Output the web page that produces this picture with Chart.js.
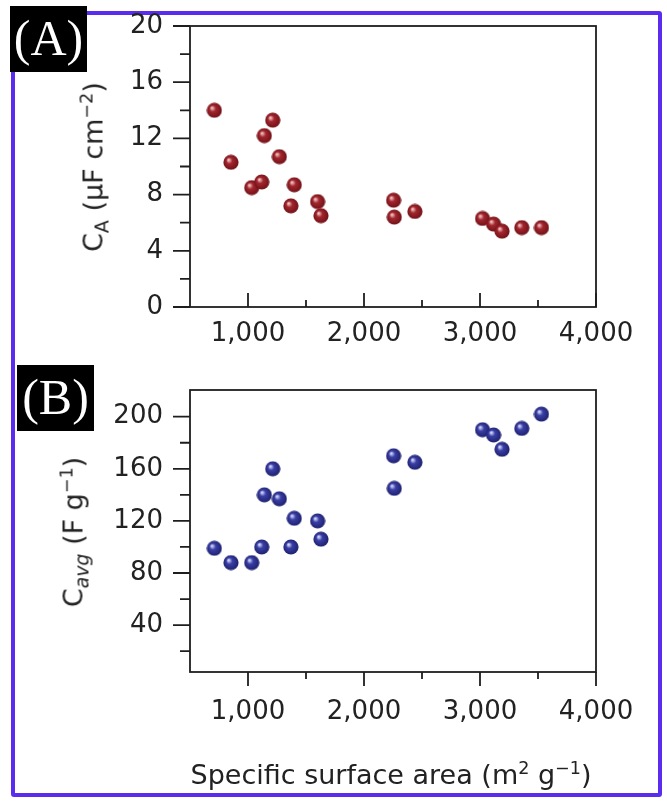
<!DOCTYPE html>
<html lang="en">
<head>
<meta charset="UTF-8">
<title>Capacitance vs specific surface area</title>
<script src="https://cdn.jsdelivr.net/npm/chart.js"></script>
<style>
  body { margin: 0; background: #fff; }
  #page { position: relative; width: 667px; height: 807px; overflow: hidden; font-family: "DejaVu Sans", sans-serif; color: #222; }
  .frame { position: absolute; left: 11px; top: 11px; width: 651px; height: 786px; box-sizing: border-box; border: 4px solid #5a2cf0; border-radius: 3px; }
  canvas { position: absolute; left: 0; }
  .tag { position: absolute; background: #000; color: #fff; font-family: "Liberation Serif", serif; font-size: 50px; line-height: 64px; text-align: center; width: 77px; height: 66px; }
  .title { position: absolute; white-space: nowrap; font-size: 27px; line-height: 1; }
  .rot { transform: translate(-50%, -50%) rotate(-90deg); }
  .hor { transform: translate(-50%, -50%); }
  sup { font-size: 65%; vertical-align: 0.55em; line-height: 0; }
  sub { font-size: 70%; vertical-align: -0.3em; line-height: 0; }
  sub.it { font-style: italic; }
</style>
</head>
<body>
<div id="page">
  <div class="frame"></div>
  <canvas id="chartA" width="667" height="360" style="top:0"></canvas>
  <canvas id="chartB" width="667" height="447" style="top:360px"></canvas>
  <div class="tag" style="left:10px; top:6px">(A)</div>
  <div class="tag" style="left:17px; top:365px">(B)</div>
  <div class="title rot" style="left:93px; top:167px">C<sub>A</sub> (μF cm<sup>−2</sup>)</div>
  <div class="title rot" style="left:73px; top:532px">C<sub class="it">avg</sub> (F g<sup>−1</sup>)</div>
  <div class="title hor" style="left:391px; top:774px">Specific surface area (m<sup>2</sup> g<sup>−1</sup>)</div>
</div>

<script>
// valeurs
const surfaceArea = [710, 853, 1032, 1118, 1141, 1213, 1270, 1399, 1370, 1600, 1629, 2255, 2261, 2439, 3022, 3117, 3190, 3360, 3530];
const capArea = [14.0, 10.3, 8.5, 8.9, 12.2, 13.3, 10.7, 8.7, 7.2, 7.5, 6.5, 7.6, 6.4, 6.8, 6.3, 5.9, 5.4, 5.65, 5.65];
const capAvg = [99, 88, 88, 100, 140, 160, 137, 122, 100, 120, 106, 170, 145, 165, 190, 186, 175, 191, 202];

const xMajor = [1000, 2000, 3000, 4000];
const xMinor = [1500, 2500, 3500];
const yMajorA = [0, 4, 8, 12, 16, 20];
const yMinorA = [2, 6, 10, 14, 18];
const yMajorB = [40, 80, 120, 160, 200];
const yMinorB = [20, 60, 100, 140, 180];

// petite sphère ombrée pour les points
function sphere(light, mid, dark) {
    const c = document.createElement('canvas');
    c.width = 16; c.height = 16;
    const g = c.getContext('2d');
    const grad = g.createRadialGradient(5.5, 5.5, 0.5, 8, 8, 8);
    grad.addColorStop(0, light);
    grad.addColorStop(0.35, mid);
    grad.addColorStop(1, dark);
    g.fillStyle = grad;
    g.beginPath();
    g.arc(8, 8, 7.6, 0, Math.PI * 2);
    g.fill();
    return c;
}

function toPoints(ys) {
    return surfaceArea.map((x, i) => ({ x: x, y: ys[i] }));
}

// cadre + graduations majeures/mineures
const frameTicks = {
    id: 'frameTicks',
    afterDraw(chart, args, o) {
        const { ctx, chartArea: a, scales: { x, y } } = chart;
        ctx.save();
        ctx.strokeStyle = '#1e1e1e';
        ctx.lineWidth = 1.8;
        ctx.strokeRect(a.left, a.top, a.right - a.left, a.bottom - a.top);
        ctx.beginPath();
        o.yMajor.forEach(v => { const p = y.getPixelForValue(v); ctx.moveTo(a.left - 17, p); ctx.lineTo(a.left, p); });
        o.yMinor.forEach(v => { const p = y.getPixelForValue(v); ctx.moveTo(a.left - 10, p); ctx.lineTo(a.left, p); });
        xMajor.forEach(v => { const p = x.getPixelForValue(v); ctx.moveTo(p, a.bottom); ctx.lineTo(p, a.bottom + o.xDir * 14); });
        xMinor.forEach(v => { const p = x.getPixelForValue(v); ctx.moveTo(p, a.bottom); ctx.lineTo(p, a.bottom + o.xDir * 7); });
        ctx.stroke();
        ctx.restore();
    }
};

function makeChart(id, ys, yMin, yMax, yMajor, yMinor, marker, xDir, xPad, padTop, xHeight) {
    return new Chart(document.getElementById(id), {
        type: 'scatter',
        data: {
            datasets: [{
                data: toPoints(ys),
                pointStyle: marker,
                pointRadius: 8,
                pointHoverRadius: 8
            }]
        },
        options: {
            responsive: false,
            animation: false,
            layout: { padding: { left: 0, top: padTop, right: 71, bottom: 0 } },
            plugins: { legend: { display: false }, tooltip: { enabled: false }, frameTicks: { yMajor, yMinor, xDir } },
            scales: {
                x: {
                    type: 'linear', min: 500, max: 4000,
                    afterBuildTicks: s => { s.ticks = xMajor.map(v => ({ value: v })); },
                    afterFit: s => { s.height = xHeight; },
                    grid: { display: false, drawTicks: true, tickLength: xDir > 0 ? 14 : 0 },
                    border: { display: false },
                    ticks: { color: '#222', padding: xPad, maxRotation: 0, font: { family: 'DejaVu Sans', size: 26 },
                        callback: v => v.toLocaleString('en-US') }
                },
                y: {
                    type: 'linear', min: yMin, max: yMax,
                    afterBuildTicks: s => { s.ticks = yMajor.map(v => ({ value: v })); },
                    afterFit: s => { s.width = 190; },
                    grid: { display: false, drawTicks: true, tickLength: 17 },
                    border: { display: false },
                    ticks: { color: '#222', padding: 10, font: { family: 'DejaVu Sans', size: 26 } }
                }
            }
        },
        plugins: [frameTicks]
    });
}

document.addEventListener('DOMContentLoaded', function () {
    const red = sphere('#f4c8c8', '#a3262e', '#6e1016');
    const blue = sphere('#d8dcff', '#3a3fa6', '#1c1f6a');
    makeChart('chartA', capArea, 0, 20, yMajorA, yMinorA, red, -1, 12, 26, 53);
    makeChart('chartB', capAvg, 4, 220.5, yMajorB, yMinorB, blue, 1, 11, 30, 135);
});
</script>
</body>
</html>
